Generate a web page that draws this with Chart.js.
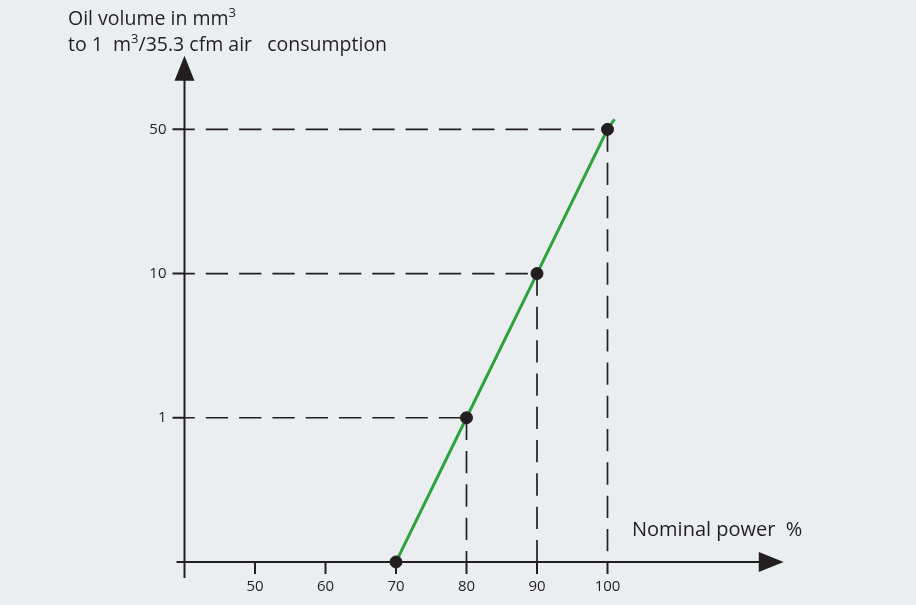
<!DOCTYPE html>
<html>
<head>
<meta charset="utf-8">
<script src="https://cdn.jsdelivr.net/npm/chart.js@4.4.1/dist/chart.umd.min.js"></script>
<style>
  html, body { margin: 0; padding: 0; background: #ebeef1; }
  #wrap { width: 916px; height: 605px; position: relative; }
</style>
</head>
<body>
<div id="wrap"><canvas id="oil-chart"></canvas></div>
<script>
// nominal power (%) of the marked points
const powerPct = [70, 80, 90, 100];
// oil volume at each point, mm3 per m3 of air
const oilVolume = [0, 1, 10, 50];
// levels on the vertical axis (evenly spaced, bottom one has no label)
const oilTicks = [0, 1, 10, 50];
const oilTickLabels = ['', '1', '10', '50'];
// labelled ticks on the power axis
const powerTicks = [50, 60, 70, 80, 90, 100];
// the green line runs a bit past the last point
const trendEndPower = [101];
const trendEndLevel = [3.07];

const ink = '#231f20';
const green = '#2ea23c';
const font = '"Open Sans", "Noto Sans", sans-serif';

const level = v => oilTicks.indexOf(v);

// dashed guides: across from the vertical axis, then down to the power axis
const guideSets = [];
powerPct.forEach((p, i) => {
    const lv = level(oilVolume[i]);
    if (lv <= 0) return;
    guideSets.push({
        data: [{ x: 40, y: lv }, { x: p, y: lv }],
        showLine: true,
        borderColor: ink, borderWidth: 1.7,
        borderDash: [22.3, 11], borderDashOffset: 12,
        pointRadius: 0, order: 3
    });
    guideSets.push({
        data: [{ x: p, y: lv }, { x: p, y: 0 }],
        showLine: true,
        borderColor: ink, borderWidth: 1.7,
        borderDash: [22.3, 11],
        pointRadius: 0, order: 3
    });
});

const trendData = powerPct.map((p, i) => ({ x: p, y: level(oilVolume[i]) }));
trendEndPower.forEach((p, i) => trendData.push({ x: p, y: trendEndLevel[i] }));

const pointData = powerPct.map((p, i) => ({ x: p, y: level(oilVolume[i]) }));

// axis lines with arrow heads, ticks, tick labels and axis titles
const arrowAxes = {
    id: 'arrowAxes',
    beforeDatasetsDraw(chart) {
        const { ctx, scales: { x, y } } = chart;
        const ox = x.getPixelForValue(40);
        const oy = y.getPixelForValue(0);
        const xTip = x.getPixelForValue(125);
        const yTip = y.getPixelForValue(3.51);
        ctx.save();
        ctx.strokeStyle = ink;
        ctx.fillStyle = ink;
        ctx.lineWidth = 2;

        ctx.beginPath();
        ctx.moveTo(ox - 8, oy);
        ctx.lineTo(xTip - 20, oy);
        ctx.moveTo(ox, oy + 16);
        ctx.lineTo(ox, yTip + 20);
        ctx.stroke();

        // arrow heads
        ctx.beginPath();
        ctx.moveTo(xTip, oy);
        ctx.lineTo(xTip - 25, oy - 10);
        ctx.lineTo(xTip - 25, oy + 10);
        ctx.closePath();
        ctx.moveTo(ox, yTip);
        ctx.lineTo(ox - 10, yTip + 25);
        ctx.lineTo(ox + 10, yTip + 25);
        ctx.closePath();
        ctx.fill();

        // power ticks
        ctx.font = '15px ' + font;
        ctx.textAlign = 'center';
        ctx.textBaseline = 'middle';
        ctx.beginPath();
        powerTicks.forEach(v => {
            const px = x.getPixelForValue(v);
            ctx.moveTo(px, oy);
            ctx.lineTo(px, oy + 12);
        });
        ctx.stroke();
        powerTicks.forEach(v => ctx.fillText(String(v), x.getPixelForValue(v), oy + 25));

        // oil volume ticks
        ctx.textAlign = 'right';
        ctx.beginPath();
        oilTicks.forEach((v, i) => {
            if (!oilTickLabels[i]) return;
            const py = y.getPixelForValue(i);
            ctx.moveTo(ox - 12, py);
            ctx.lineTo(ox, py);
        });
        ctx.stroke();
        oilTicks.forEach((v, i) => {
            if (!oilTickLabels[i]) return;
            ctx.fillText(oilTickLabels[i], ox - 18, y.getPixelForValue(i));
        });

        // titles, with raised "3" for cubic units
        ctx.textAlign = 'left';
        ctx.textBaseline = 'alphabetic';
        const run = (parts, x0, base, size) => {
            let cx = x0;
            parts.forEach(([txt, sup]) => {
                ctx.font = (sup ? 13 : size) + 'px ' + font;
                ctx.fillText(txt, cx, sup ? base - 8 : base);
                cx += ctx.measureText(txt).width;
            });
        };
        run([['Oil volume in mm'], ['3', true]], 68, 25, 19.5);
        run([['to 1  m'], ['3', true], ['/35.3 cfm air   consumption']], 68, 51, 19.5);
        run([['Nominal power  %']], 632, 536, 20);
        ctx.restore();
    }
};

new Chart(document.getElementById('oil-chart'), {
    type: 'scatter',
    data: {
        datasets: [
            ...guideSets,
            {
                data: trendData,
                showLine: true,
                borderColor: green,
                borderWidth: 3,
                pointRadius: 0,
                order: 2
            },
            {
                data: pointData,
                showLine: false,
                backgroundColor: ink,
                borderColor: ink,
                pointRadius: 6,
                pointHoverRadius: 6,
                order: 1
            }
        ]
    },
    options: {
        responsive: true,
        maintainAspectRatio: false,
        animation: false,
        layout: { padding: { left: 114, right: 97, top: 14, bottom: 7 } },
        plugins: { legend: { display: false }, tooltip: { enabled: false } },
        scales: {
            x: { type: 'linear', min: 30, max: 130, display: false },
            y: { type: 'linear', min: -0.25, max: 3.8, display: false }
        }
    },
    plugins: [arrowAxes]
});
</script>
</body>
</html>
